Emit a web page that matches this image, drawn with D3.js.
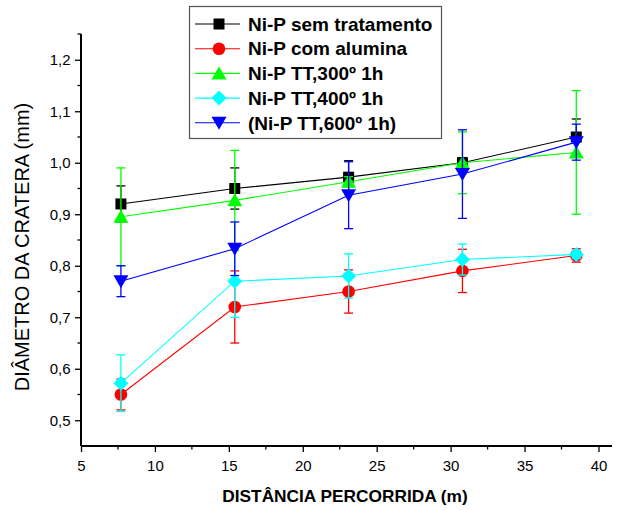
<!DOCTYPE html>
<html><head><meta charset="utf-8">
<script src="https://cdn.jsdelivr.net/npm/d3@7"></script>
<style>body{margin:0;background:#fff}svg{display:block}</style>
</head><body>
<svg id="c" width="625" height="510"></svg>
<script>
const xValues = [7.7, 15.4, 23.1, 30.8, 38.5];
const seriesNames = ["Ni-P sem tratamento", "Ni-P com alumina", "Ni-P TT,300º 1h", "Ni-P TT,400º 1h", "(Ni-P TT,600º 1h)"];
const semTratamento = [0.92, 0.95, 0.972, 1.00, 1.05];
const semTratamentoErr = [0.035, 0.04, 0.032, 0.01, 0.035];
const comAlumina = [0.55, 0.72, 0.75, 0.79, 0.82];
const comAluminaErr = [0.03, 0.07, 0.042, 0.042, 0.013];
const tt300 = [0.895, 0.927, 0.963, 1.0, 1.02];
const tt300Err = [0.095, 0.097, 0.01, 0.06, 0.12];
const tt400 = [0.572, 0.77, 0.78, 0.812, 0.822];
const tt400Err = [0.055, 0.07, 0.043, 0.03, 0.008];
const tt600 = [0.77, 0.833, 0.937, 0.978, 1.04];
const tt600Err = [0.03, 0.052, 0.065, 0.086, 0.035];
const xTicks = [5, 10, 15, 20, 25, 30, 35, 40];
const yTicks = [0.5, 0.6, 0.7, 0.8, 0.9, 1.0, 1.1, 1.2];
const xTitle = "DISTÂNCIA PERCORRIDA (m)";
const yTitle = "DIÂMETRO DA CRATERA (mm)";

const colors = ["#000000", "#ff0000", "#00ff00", "#00ffff", "#0000ff"];
const shapes = ["square", "circle", "triangle", "diamond", "triangleDown"];
const series = [
  {v: semTratamento, e: semTratamentoErr},
  {v: comAlumina, e: comAluminaErr},
  {v: tt300, e: tt300Err},
  {v: tt400, e: tt400Err},
  {v: tt600, e: tt600Err}
];

const svg = d3.select("#c");
const font = "'Liberation Sans', Arial, sans-serif";
const x = d3.scaleLinear().domain([5, 42.2]).range([81, 631]);
const y = d3.scaleLinear().domain([0.45, 1.25]).range([446, 34]);

// Axes
const xAxis = d3.axisBottom(x).tickValues(xTicks).tickSize(6).tickFormat(d3.format("d"));
const gx = svg.append("g").attr("transform", "translate(0,446)").call(xAxis);
gx.select(".domain").attr("stroke-width", 2).attr("d", `M${x(5)},0H612`);
gx.selectAll(".tick line").attr("stroke-width", 1.3);
gx.selectAll("text").attr("font-family", font).attr("font-size", 15).attr("dy", "1.05em").attr("fill", "#000");
const xMinor = d3.range(7.5, 41, 5);
gx.selectAll(".mx").data(xMinor).enter().append("line")
  .attr("x1", d => x(d)).attr("x2", d => x(d)).attr("y1", 0).attr("y2", 3.5)
  .attr("stroke", "#000").attr("stroke-width", 1.3);

const yAxis = d3.axisLeft(y).tickValues(yTicks).tickSize(6).tickFormat(d => d3.format(".1f")(d).replace(".", ","));
const gy = svg.append("g").attr("transform", "translate(81,0)").call(yAxis);
gy.select(".domain").attr("stroke-width", 2).attr("d", `M0,${y(1.25)}V${y(0.45)}`);
gy.selectAll(".tick line").attr("stroke-width", 1.3);
gy.selectAll("text").attr("font-family", font).attr("font-size", 15).attr("fill", "#000").attr("dx", "-0.1em");
const yMinor = d3.range(0.55, 1.26, 0.1);
gy.selectAll(".my").data(yMinor).enter().append("line")
  .attr("x1", 0).attr("x2", -3.5).attr("y1", d => y(d)).attr("y2", d => y(d))
  .attr("stroke", "#000").attr("stroke-width", 1.3);

// Titles
svg.append("text").attr("x", 345).attr("y", 502).attr("text-anchor", "middle")
  .attr("font-family", font).attr("font-size", 17.3).attr("font-weight", "bold").text(xTitle);
svg.append("text").attr("transform", "translate(29,247) rotate(-90)").attr("text-anchor", "middle")
  .attr("font-family", font).attr("font-size", 20).text(yTitle);

function marker(g, shape, cx, cy, color) {
  if (shape === "square") {
    g.append("rect").attr("x", cx - 5.5).attr("y", cy - 5.5).attr("width", 11).attr("height", 11).attr("fill", color);
  } else if (shape === "circle") {
    g.append("circle").attr("cx", cx).attr("cy", cy).attr("r", 6.3).attr("fill", color);
  } else if (shape === "triangle") {
    g.append("path").attr("d", `M${cx},${cy-7}L${cx+7.5},${cy+6}L${cx-7.5},${cy+6}Z`).attr("fill", color);
  } else if (shape === "triangleDown") {
    g.append("path").attr("d", `M${cx},${cy+7}L${cx+7.5},${cy-6}L${cx-7.5},${cy-6}Z`).attr("fill", color);
  } else if (shape === "diamond") {
    g.append("path").attr("d", `M${cx},${cy-7.5}L${cx+7.5},${cy}L${cx},${cy+7.5}L${cx-7.5},${cy}Z`).attr("fill", color);
  }
}

const line = d3.line().x((d, i) => x(xValues[i])).y(d => y(d));
series.forEach((s, k) => {
  const g = svg.append("g");
  const c = colors[k];
  g.append("path").datum(s.v).attr("d", line).attr("fill", "none").attr("stroke", c).attr("stroke-width", 1.1);
  s.v.forEach((v, i) => {
    const cx = x(xValues[i]);
    const y1 = y(v + s.e[i]), y2 = y(v - s.e[i]);
    g.append("line").attr("x1", cx).attr("x2", cx).attr("y1", y1).attr("y2", y2).attr("stroke", c).attr("stroke-width", 1.3);
    [y1, y2].forEach(yy => g.append("line").attr("x1", cx - 4.5).attr("x2", cx + 4.5).attr("y1", yy).attr("y2", yy).attr("stroke", c).attr("stroke-width", 1.3));
  });
  s.v.forEach((v, i) => marker(g, shapes[k], x(xValues[i]), y(v), c));
});

// Legend
const lg = svg.append("g");
lg.append("rect").attr("x", 189.5).attr("y", 6.5).attr("width", 252).attr("height", 132)
  .attr("fill", "#fff").attr("stroke", "#555").attr("stroke-width", 1.2);
seriesNames.forEach((name, k) => {
  const cy = 24 + k * 24.7;
  lg.append("line").attr("x1", 195).attr("x2", 240).attr("y1", cy).attr("y2", cy).attr("stroke", colors[k]).attr("stroke-width", 1.1);
  marker(lg, shapes[k], 219, cy, colors[k]);
  lg.append("text").attr("x", 248).attr("y", cy + 6.7).attr("font-family", font).attr("font-size", 19)
    .attr("font-weight", "bold").text(name);
});
</script>
</body></html>
